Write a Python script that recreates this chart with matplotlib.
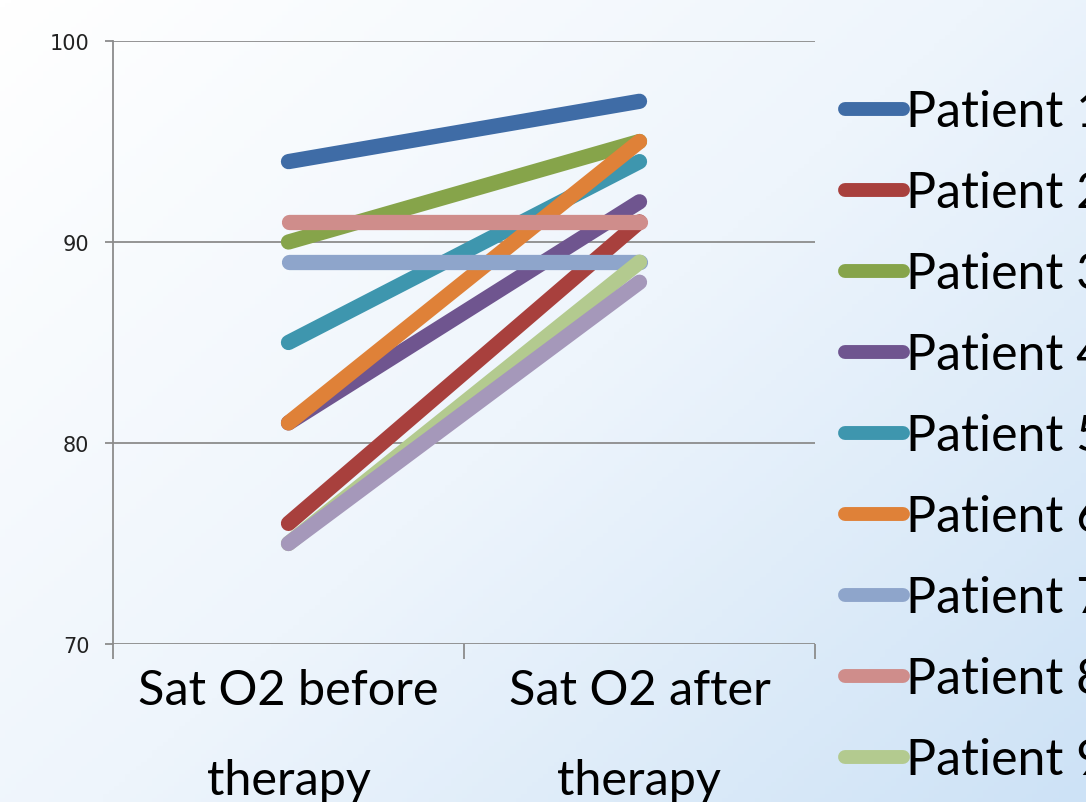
import numpy as np
import matplotlib
matplotlib.use("Agg")
import matplotlib.pyplot as plt
from matplotlib.colors import LinearSegmentedColormap

plt.rcParams['font.family'] = ['Lato', 'DejaVu Sans']

categories = ['Sat O2 before\ntherapy', 'Sat O2 after\ntherapy']
patients = ['Patient 1', 'Patient 2', 'Patient 3', 'Patient 4', 'Patient 5',
            'Patient 6', 'Patient 7', 'Patient 8', 'Patient 9', 'Patient 10']
sat_before = [94, 76, 90, 81, 85, 81, 89, 91, 75, 75]
sat_after = [97, 91, 95, 92, 94, 95, 89, 91, 89, 88]
colors = ['#3f6ca6', '#a8403d', '#86a44a', '#6f558f', '#3e96ae',
          '#df8138', '#8ea5cb', '#cf8d8b', '#b3ca8f', '#a598ba']

fig = plt.figure(figsize=(10.86, 8.03), dpi=100)

# soft white-to-blue backdrop
bg = fig.add_axes([0, 0, 1, 1], zorder=-10)
yy, xx = np.mgrid[0:1:200j, 0:1:200j]
grad = np.clip(0.55 * xx + 0.45 * yy, 0, 1)
cmap = LinearSegmentedColormap.from_list('bg', ['#ffffff', '#eef5fc', '#cde2f6'])
bg.imshow(grad, cmap=cmap, aspect='auto', extent=[0, 1, 0, 1], origin='upper')
bg.axis('off')

ax = fig.add_axes([113 / 1086, 1 - 645 / 803, (815 - 113) / 1086, (645 - 42) / 803])
ax.patch.set_alpha(0)

xpos = [0.5, 1.5]
for name, b, a, c in zip(patients, sat_before, sat_after, colors):
    ax.plot(xpos, [b, a], color=c, lw=11, solid_capstyle='round', label=name, zorder=3)

ax.set_xlim(0, 2)
ax.set_ylim(70, 100)
ax.set_yticks([70, 80, 90, 100])
ax.set_xticks([0, 1, 2])
ax.set_xticklabels([])
ax.set_xticks(xpos, minor=True)
ax.set_xticklabels(categories, minor=True, fontsize=35, color='#000000',
                   linespacing=2.28)
ax.tick_params(axis='x', which='minor', length=0, pad=17)
ax.tick_params(axis='x', which='major', length=11, color='#8c8c8c', width=1.3)
ax.tick_params(axis='y', length=6, color='#8c8c8c', width=1.3, pad=11)
for t in ax.get_yticklabels():
    t.set_fontfamily('DejaVu Sans')
    t.set_fontsize(15)
    t.set_color('#222222')
ax.yaxis.grid(True, color='#8c8c8c', lw=1.3, zorder=1)
for s in ['top', 'right', 'bottom']:
    ax.spines[s].set_visible(False)
ax.spines['left'].set_color('#8c8c8c')
ax.spines['left'].set_linewidth(1.3)
ax.set_axisbelow(True)

leg = ax.legend(loc='upper left', bbox_to_anchor=(845 / 1086, 1 - 90 / 803),
                bbox_transform=fig.transFigure, frameon=False, fontsize=36,
                handlelength=1.15, handletextpad=0.08, labelspacing=0.7,
                borderaxespad=0, borderpad=0)
for h in leg.get_lines():
    h.set_linewidth(10)
    h.set_solid_capstyle('round')

fig.savefig('out.png', dpi=100)
